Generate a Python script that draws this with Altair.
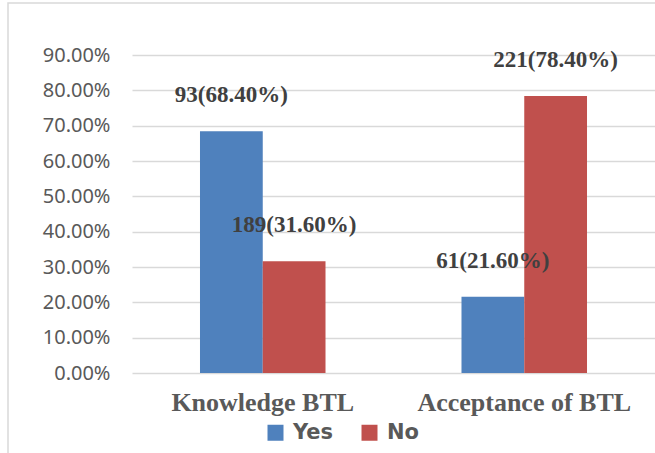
import altair as alt
import pandas as pd

categories = ["Knowledge BTL", "Acceptance of BTL"]
series = ["Yes", "No"]
yes_counts = [93, 61]
yes_pct = [68.40, 21.60]
no_counts = [189, 221]
no_pct = [31.60, 78.40]
y_ticks = [0.0, 0.1, 0.2, 0.3, 0.4, 0.5, 0.6, 0.7, 0.8, 0.9]

rows = []
for i, c in enumerate(categories):
    rows.append({"cat": c, "series": "Yes", "value": yes_pct[i] / 100,
                 "label": f"{yes_counts[i]}({yes_pct[i]:.2f}%)"})
    rows.append({"cat": c, "series": "No", "value": no_pct[i] / 100,
                 "label": f"{no_counts[i]}({no_pct[i]:.2f}%)"})
df = pd.DataFrame(rows)

W, H = 523, 318

x_enc = alt.X("cat:N", sort=categories, title=None,
              scale=alt.Scale(paddingInner=0.52, paddingOuter=0.26),
              axis=alt.Axis(labelAngle=0, domain=False, ticks=False, labelLimit=0,
                            labelFont="Liberation Serif", labelFontWeight="bold",
                            labelFontSize=26, labelColor="#595959", labelPadding=16))
xoff = alt.XOffset("series:N", sort=series)
y_enc = alt.Y("value:Q", title=None,
              scale=alt.Scale(domain=[0, 0.9], nice=False),
              axis=alt.Axis(values=y_ticks, format=".2%", domain=False, ticks=False,
                            labelOverlap=False, labelLimit=0,
                            labelFont="Noto Sans", labelFontSize=20, labelColor="#595959",
                            labelPadding=22, gridColor="#d9d9d9", gridWidth=1.6))

color = alt.Color("series:N", sort=series,
                  scale=alt.Scale(domain=series, range=["#4f81bd", "#c0504d"]),
                  legend=alt.Legend(title=None, orient="none", direction="horizontal",
                                    legendX=133, legendY=367, padding=0,
                                    symbolType="square", symbolSize=256,
                                    symbolStrokeWidth=0, symbolOpacity=1,
                                    labelFont="DejaVu Sans", labelFontWeight="bold",
                                    labelFontSize=21, labelColor="#595959",
                                    labelOffset=7, columnPadding=25))

bars = alt.Chart(df).mark_bar().encode(x=x_enc, xOffset=xoff, y=y_enc, color=color)

labels = alt.Chart(df).mark_text(
    font="Liberation Serif", fontWeight="bold", fontSize=23, color="#404040",
    baseline="middle", dy=-36
).encode(x=x_enc, xOffset=xoff, y=y_enc, text="label:N")

border = alt.Chart(pd.DataFrame({"a": [0]})).mark_rect(
    fill=None, stroke="#d9d9d9", strokeWidth=1.5, clip=False
).encode(x=alt.value(8 - 132), x2=alt.value(W + 20),
         y=alt.value(3 - 55), y2=alt.value(H + 100))

chart = alt.layer(border, bars, labels).properties(
    width=W, height=H,
    autosize=alt.AutoSizeParams(type="none"),
    padding={"left": 132, "top": 55, "right": 0, "bottom": 80},
    background="white",
).configure_view(stroke=None)

chart.save("out.html", embed_options={"renderer": "svg", "actions": False})
